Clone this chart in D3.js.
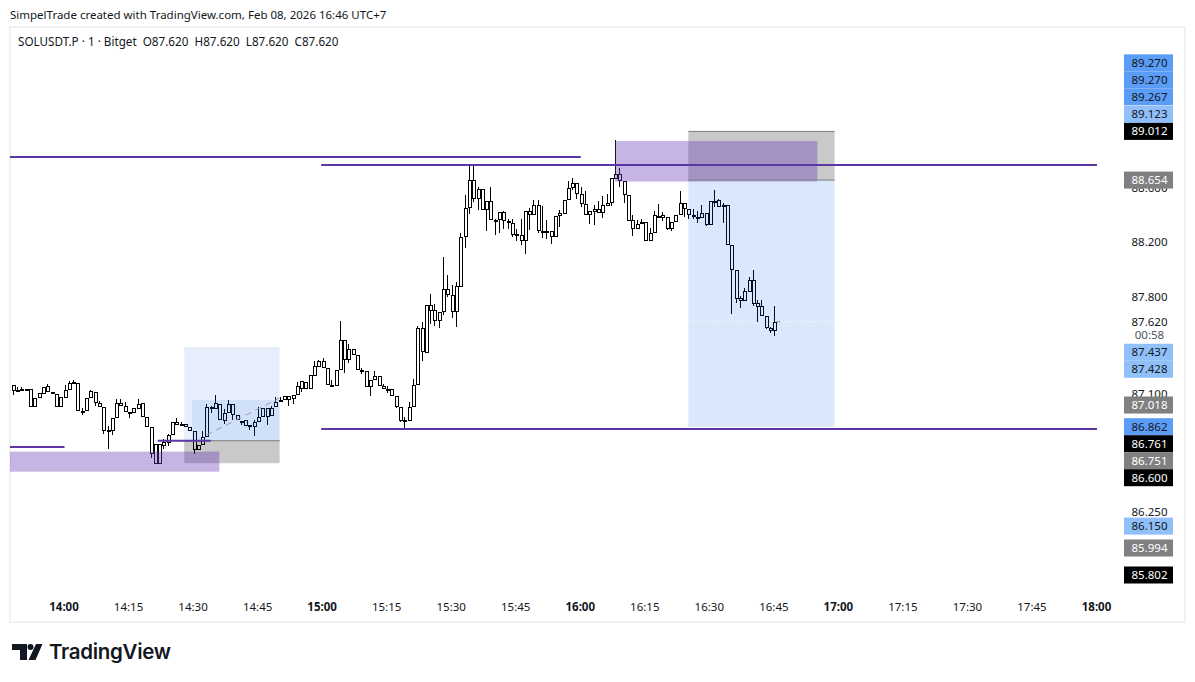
<!DOCTYPE html>
<html>
<head>
<meta charset="utf-8">
<script src="https://cdnjs.cloudflare.com/ajax/libs/d3/7.8.5/d3.min.js"></script>
<style>
  html, body { margin: 0; padding: 0; background: #fff; }
  text { font-family: "Noto Sans", sans-serif; fill: #131722; }
</style>
</head>
<body>
<div id="dataViz"></div>
<script>
//DATA - one minute candles, first one at 13:48
const START_TIME = "13:48:00";
const opens = [87.119,87.123,87.133,87.133,87.136,87.002,87.070,87.099,87.111,87.114,87.099,87.002,87.070,87.128,87.184,87.179,86.978,86.973,87.070,87.111,87.007,87.007,86.840,86.833,86.922,87.009,87.014,86.971,86.959,86.990,87.031,86.929,86.857,86.736,86.597,86.723,86.748,86.801,86.874,86.881,86.881,86.857,86.828,86.692,86.728,86.791,86.992,86.990,87.026,86.905,86.959,87.026,86.949,86.905,86.910,86.874,86.857,86.893,86.932,86.934,86.942,87.007,87.039,87.056,87.056,87.060,87.092,87.136,87.185,87.136,87.228,87.294,87.335,87.282,87.163,87.158,87.274,87.485,87.342,87.420,87.376,87.269,87.267,87.148,87.202,87.231,87.158,87.136,87.136,87.083,87.003,86.911,86.901,87.003,87.165,87.572,87.396,87.740,87.703,87.628,87.689,87.856,87.817,87.689,87.875,88.234,88.452,88.651,88.517,88.590,88.438,88.498,88.365,88.365,88.418,88.353,88.343,88.256,88.251,88.210,88.401,88.401,88.469,88.282,88.282,88.282,88.239,88.389,88.408,88.505,88.595,88.634,88.549,88.481,88.401,88.421,88.445,88.409,88.467,88.489,88.663,88.700,88.649,88.547,88.358,88.295,88.329,88.348,88.210,88.270,88.392,88.396,88.380,88.292,88.348,88.401,88.489,88.445,88.401,88.387,88.377,88.409,88.326,88.498,88.506,88.457,88.474,88.176,87.994,87.774,87.774,87.839,87.924,87.754,87.735,87.664,87.572,87.553];
const highs = [87.165,87.148,87.148,87.136,87.136,87.070,87.104,87.148,87.172,87.114,87.099,87.075,87.165,87.189,87.201,87.179,86.995,87.070,87.128,87.111,87.046,87.007,86.869,86.922,87.063,87.063,87.043,86.971,86.997,87.063,87.031,86.929,86.857,86.736,86.736,86.772,86.808,86.893,86.925,86.893,86.881,86.857,86.828,86.728,86.828,87.026,87.014,87.087,87.026,86.990,87.056,87.026,86.949,86.905,86.910,86.874,86.910,87.002,86.995,86.995,87.014,87.075,87.075,87.080,87.080,87.092,87.184,87.190,87.185,87.233,87.337,87.342,87.354,87.282,87.197,87.274,87.626,87.485,87.456,87.420,87.376,87.282,87.267,87.202,87.265,87.231,87.173,87.156,87.136,87.083,87.003,86.930,87.039,87.204,87.589,87.621,87.740,87.822,87.749,87.689,88.088,87.960,87.887,87.911,88.263,88.542,88.760,88.760,88.602,88.590,88.498,88.602,88.372,88.418,88.425,88.372,88.372,88.292,88.367,88.430,88.452,88.510,88.505,88.462,88.360,88.282,88.389,88.433,88.510,88.644,88.670,88.634,88.602,88.573,88.425,88.469,88.498,88.535,88.554,88.668,88.949,88.741,88.649,88.547,88.397,88.360,88.372,88.348,88.300,88.426,88.481,88.421,88.380,88.348,88.401,88.571,88.489,88.445,88.445,88.426,88.474,88.409,88.498,88.583,88.518,88.484,88.474,88.176,87.994,87.810,87.863,87.948,87.997,87.778,87.778,87.664,87.584,87.735];
const lows = [87.087,87.119,87.119,87.130,87.002,87.002,87.070,87.099,87.111,87.099,87.002,87.002,87.070,87.128,87.172,86.978,86.944,86.973,87.070,87.009,87.007,86.808,86.704,86.801,86.922,87.009,86.971,86.922,86.959,86.990,86.929,86.857,86.639,86.597,86.597,86.699,86.723,86.801,86.874,86.869,86.857,86.828,86.663,86.692,86.728,86.791,86.961,86.990,86.910,86.881,86.959,86.913,86.910,86.876,86.869,86.837,86.796,86.893,86.932,86.876,86.942,87.007,87.039,87.056,87.009,87.026,87.092,87.112,87.136,87.136,87.228,87.294,87.282,87.165,87.156,87.158,87.274,87.250,87.323,87.376,87.269,87.243,87.148,87.083,87.202,87.158,87.136,87.105,87.083,86.998,86.894,86.845,86.901,87.003,87.165,87.337,87.396,87.602,87.589,87.573,87.672,87.803,87.645,87.585,87.875,88.154,88.408,88.493,88.433,88.438,88.282,88.365,88.251,88.268,88.292,88.292,88.234,88.210,88.178,88.113,88.287,88.401,88.263,88.227,88.219,88.185,88.239,88.307,88.408,88.505,88.583,88.517,88.457,88.401,88.331,88.324,88.409,88.377,88.467,88.464,88.663,88.603,88.489,88.355,88.246,88.295,88.329,88.210,88.210,88.270,88.377,88.353,88.285,88.280,88.348,88.401,88.384,88.372,88.372,88.341,88.377,88.319,88.326,88.457,88.457,88.341,88.176,87.677,87.754,87.718,87.774,87.839,87.737,87.616,87.664,87.568,87.536,87.519];
const closes = [87.165,87.123,87.133,87.133,87.002,87.070,87.104,87.148,87.152,87.099,87.002,87.075,87.128,87.177,87.184,86.978,86.978,87.070,87.116,87.031,87.034,86.833,86.840,86.922,87.034,87.034,86.971,86.971,86.997,87.026,86.929,86.857,86.668,86.597,86.736,86.753,86.801,86.893,86.898,86.881,86.857,86.828,86.692,86.728,86.791,87.007,87.002,87.031,86.910,86.961,87.026,86.949,86.910,86.905,86.869,86.862,86.898,86.932,86.995,86.995,86.995,87.043,87.056,87.080,87.080,87.092,87.152,87.190,87.136,87.233,87.301,87.335,87.282,87.165,87.163,87.274,87.485,87.342,87.420,87.376,87.269,87.269,87.148,87.202,87.231,87.158,87.136,87.136,87.083,87.003,86.906,86.911,87.003,87.165,87.572,87.403,87.740,87.701,87.628,87.689,87.856,87.817,87.689,87.880,88.234,88.452,88.651,88.517,88.590,88.438,88.498,88.365,88.365,88.418,88.355,88.343,88.251,88.256,88.210,88.430,88.430,88.469,88.282,88.282,88.282,88.239,88.389,88.413,88.505,88.598,88.634,88.549,88.481,88.401,88.425,88.442,88.409,88.469,88.489,88.668,88.700,88.649,88.547,88.355,88.295,88.329,88.348,88.210,88.270,88.396,88.392,88.377,88.292,88.348,88.401,88.489,88.445,88.401,88.384,88.387,88.409,88.324,88.498,88.498,88.457,88.474,88.176,87.994,87.786,87.795,87.844,87.924,87.747,87.730,87.664,87.572,87.553,87.620];

const timeTicks = ["14:00:00","14:15:00","14:30:00","14:45:00","15:00:00","15:15:00","15:30:00","15:45:00","16:00:00","16:15:00","16:30:00","16:45:00","17:00:00","17:15:00","17:30:00","17:45:00","18:00:00"];
const priceTicks = [88.6, 88.2, 87.8, 87.62, 87.1, 86.25];
const lastPrice = 87.62;

//price tags on the right scale
const tagPrices = [89.27, 89.27, 89.267, 89.123, 89.012, 88.654, 87.437, 87.428, 87.018, 86.862, 86.761, 86.751, 86.6, 86.15, 85.994, 85.802];
const tagKinds = ["blue","blue","blue","light","black","gray","light","light","gray","blue","black","gray","black","light","gray","black"];

//horizontal rays: start, end, price
const rayStarts = ["13:47:00","14:59:40","14:59:40","13:47:00","14:21:40"];
const rayEnds = ["16:00:00","18:00:00","18:00:00","14:00:00","14:34:00"];
const rayPrices = [88.823, 88.765, 86.845, 86.716, 86.761];

//boxes: start, end, top, bottom
const boxKinds = ["reward","reward","risk","purple","rewardStrong","risk","purple"];
const boxStarts = ["14:27:50","14:29:40","14:27:50","13:47:00","16:25:00","16:25:00","16:08:00"];
const boxEnds = ["14:50:00","14:50:00","14:50:00","14:36:00","16:59:00","16:59:00","16:55:00"];
const boxTops = [87.437, 87.055, 86.761, 86.683, 88.654, 89.012, 88.941];
const boxBottoms = [86.761, 86.761, 86.6, 86.539, 86.862, 88.654, 88.643];

//dashed trade path on the left position
const tradeTimes = ["14:33:00","14:50:00"];
const tradePrices = [86.802, 87.069];

//Create DIMENSIONS
const WIDTH = 1195, HEIGHT = 682;
const PANEL = { left: 10, right: 1185, top: 27, bottom: 622 };

const BOX_FILL = {
  reward: "rgba(15,102,228,0.10)",
  rewardStrong: "rgba(15,102,228,0.15)",
  risk: "rgba(0,0,0,0.21)",
  purple: "rgba(103,58,183,0.375)"
};
const TAG_STYLE = {
  blue: { bg: "#5b9cf6", fg: "#131722" },
  light: { bg: "#90bff9", fg: "#131722" },
  gray: { bg: "#808080", fg: "#ffffff" },
  black: { bg: "#000000", fg: "#ffffff" }
};

//Create SVG
const svg = d3.select("#dataViz").append("svg")
  .attr("width", WIDTH)
  .attr("height", HEIGHT)
  .style("display", "block");

//Scales
const parseTime = d3.timeParse("%H:%M:%S");
const xScale = d3.scaleTime()
  .domain([parseTime("14:00:00"), parseTime("18:00:00")])
  .range([64.5, 1097]);
// the chart is on a log price scale
const yScale = d3.scaleLog()
  .domain([89.012, 85.802])
  .range([131.4, 575]);
const fmtPrice = d3.format(".3f");

//Panel border
svg.append("rect")
  .attr("x", PANEL.left).attr("y", PANEL.top)
  .attr("width", PANEL.right - PANEL.left).attr("height", PANEL.bottom - PANEL.top)
  .attr("fill", "#fff").attr("stroke", "#f0f1f4").attr("stroke-width", 2);

//Draw CANDLES
const candles = opens.map((o, i) => ({
  time: d3.timeMinute.offset(parseTime(START_TIME), i),
  o: o, h: highs[i], l: lows[i], c: closes[i]
}));
const bodyTop = d => Math.round(yScale(Math.max(d.o, d.c)));
const bodyBottom = d => Math.round(yScale(Math.min(d.o, d.c)));
const candleG = svg.append("g").attr("shape-rendering", "crispEdges");
candleG.selectAll("line").data(candles).enter().append("line")
  .attr("x1", d => Math.round(xScale(d.time)) + 0.5)
  .attr("x2", d => Math.round(xScale(d.time)) + 0.5)
  .attr("y1", d => yScale(d.h))
  .attr("y2", d => yScale(d.l))
  .attr("stroke", "#000");
candleG.selectAll("rect").data(candles).enter().append("rect")
  .attr("x", d => Math.round(xScale(d.time)) - 1)
  .attr("width", 3)
  .attr("y", d => bodyTop(d) + 0.5)
  .attr("height", d => Math.max(1, bodyBottom(d) - bodyTop(d) - 1))
  .attr("fill", "#fff")
  .attr("stroke", "#000");

//Draw BOXES
const boxes = boxKinds.map((k, i) => ({
  kind: k,
  x0: Math.max(PANEL.left, xScale(parseTime(boxStarts[i]))),
  x1: xScale(parseTime(boxEnds[i])),
  top: yScale(boxTops[i]),
  bottom: yScale(boxBottoms[i])
}));
svg.append("g").selectAll("rect").data(boxes).enter().append("rect")
  .attr("x", d => d.x0)
  .attr("y", d => d.top)
  .attr("width", d => d.x1 - d.x0)
  .attr("height", d => d.bottom - d.top)
  .attr("fill", d => BOX_FILL[d.kind]);

//grey edge on the risk boxes
svg.append("g").selectAll("line")
  .data(boxes.filter(d => d.kind === "risk").map(d => ({ x0: d.x0, x1: d.x1, y: d.top })))
  .enter().append("line")
  .attr("x1", d => d.x0).attr("x2", d => d.x1)
  .attr("y1", d => d.y).attr("y2", d => d.y)
  .attr("stroke", "#7d7d7d").attr("stroke-width", 1);
svg.append("line")
  .attr("x1", xScale(parseTime("16:25:00"))).attr("x2", xScale(parseTime("16:59:00")))
  .attr("y1", yScale(88.654)).attr("y2", yScale(88.654))
  .attr("stroke", "#7d7d7d");

//dashed trade line
svg.append("line")
  .attr("x1", xScale(parseTime(tradeTimes[0]))).attr("x2", xScale(parseTime(tradeTimes[1])))
  .attr("y1", yScale(tradePrices[0])).attr("y2", yScale(tradePrices[1]))
  .attr("stroke", "#9a9a9a").attr("stroke-dasharray", "6,5");

//last price dotted line, white inside the box and dark next to the candle
svg.append("g").selectAll("line")
  .data([["16:25:00", "16:41:00"], ["16:46:00", "16:59:00"]]).enter().append("line")
  .attr("x1", d => xScale(parseTime(d[0]))).attr("x2", d => xScale(parseTime(d[1])))
  .attr("y1", yScale(lastPrice)).attr("y2", yScale(lastPrice))
  .attr("stroke", "#fff").attr("stroke-dasharray", "1,2");
svg.append("line")
  .attr("x1", xScale(parseTime("16:45:00")) + 2.5).attr("x2", xScale(parseTime("16:46:00")) + 2)
  .attr("y1", yScale(lastPrice)).attr("y2", yScale(lastPrice))
  .attr("stroke", "#333").attr("stroke-dasharray", "1,1");

//Draw RAYS
svg.append("g").selectAll("line").data(rayPrices).enter().append("line")
  .attr("x1", (d, i) => Math.max(PANEL.left, xScale(parseTime(rayStarts[i]))))
  .attr("x2", (d, i) => xScale(parseTime(rayEnds[i])))
  .attr("y1", d => yScale(d))
  .attr("y2", d => yScale(d))
  .attr("stroke", "#5e35a4")
  .attr("stroke-width", 2);

//Create X-AXIS
const xAxis = svg.append("g")
  .attr("transform", "translate(-1,607)")
  .call(d3.axisBottom(xScale)
    .tickValues(timeTicks.map(parseTime))
    .tickSize(0)
    .tickFormat(d3.timeFormat("%H:%M")));
xAxis.select(".domain").remove();
xAxis.selectAll("text")
  .attr("y", 0)
  .attr("dy", "0.35em")
  .attr("font-size", 11.5)
  .attr("font-weight", d => d.getMinutes() === 0 ? 700 : 400);

//Create Y-AXIS
const SCALE_X = 1149.5;
const yAxis = svg.append("g")
  .attr("transform", `translate(${SCALE_X},0)`)
  .call(d3.axisRight(yScale)
    .tickValues(priceTicks)
    .tickSize(0)
    .tickFormat(fmtPrice));
yAxis.select(".domain").remove();
yAxis.selectAll("text")
  .attr("x", 0)
  .attr("text-anchor", "middle")
  .attr("font-size", 11.5);

// countdown under the last price
svg.append("text")
  .attr("x", SCALE_X).attr("y", yScale(lastPrice) + 13.5)
  .attr("dy", "0.35em")
  .attr("text-anchor", "middle")
  .attr("font-size", 11.5)
  .style("fill", "#50535e")
  .text("00:58");

//Price tags, pushed apart the way the scale does it
const TAG_H = 17;
const tags = tagPrices.map((p, i) => ({ price: p, kind: tagKinds[i], y: yScale(p) }));
const above = tags.filter(d => d.price > lastPrice);
const below = tags.filter(d => d.price < lastPrice);
for (let i = above.length - 2; i >= 0; i--) {
  above[i].y = Math.min(above[i].y, above[i + 1].y - TAG_H);
}
let floorY = yScale(lastPrice) + 13.5 + 17;
below.forEach(d => {
  d.y = Math.max(d.y, floorY);
  floorY = d.y + TAG_H;
});
const tagG = svg.append("g").selectAll("g").data(tags).enter().append("g")
  .attr("transform", d => `translate(1124,${d.y})`);
tagG.append("rect")
  .attr("y", -TAG_H / 2)
  .attr("width", 49)
  .attr("height", TAG_H)
  .attr("fill", d => TAG_STYLE[d.kind].bg);
tagG.append("text")
  .attr("x", SCALE_X - 1124)
  .attr("dy", "0.35em")
  .attr("text-anchor", "middle")
  .attr("font-size", 11.5)
  .style("fill", d => TAG_STYLE[d.kind].fg)
  .text(d => fmtPrice(d.price));

//Header texts
svg.append("text")
  .attr("x", 10).attr("y", 19)
  .attr("font-size", 11.5)
  .text("SimpelTrade created with TradingView.com, Feb 08, 2026 16:46 UTC+7");
svg.append("text")
  .attr("x", 18).attr("y", 46)
  .attr("font-size", 11.7)
  .style("white-space", "pre")
  .text("SOLUSDT.P · 1 · Bitget  O87.620  H87.620  L87.620  C87.620");

//TradingView logo
const logo = svg.append("g").attr("transform", "translate(12,644)").attr("fill", "#131722");
logo.append("path").attr("d", "M0 0H15V16H8V6H0Z");
logo.append("circle").attr("cx", 18.5).attr("cy", 3).attr("r", 3);
logo.append("path").attr("d", "M24 0H30.5L23.5 16H16.5Z");
svg.append("text")
  .attr("x", 49).attr("y", 659)
  .style("font-family", "Inter")
  .attr("font-size", 20.5)
  .attr("font-weight", 600)
  .attr("letter-spacing", -0.3)
  .text("TradingView");
</script>
</body>
</html>
